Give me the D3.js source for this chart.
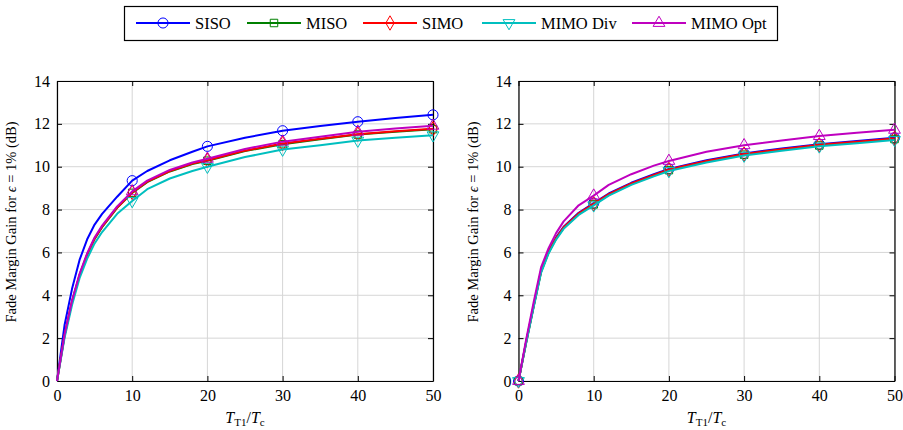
<!DOCTYPE html>
<html>
<head>
<meta charset="utf-8">
<script src="https://cdn.jsdelivr.net/npm/d3@7"></script>
<style>
  body { margin: 0; background: #fff; }
  svg text { font-family: "Liberation Serif", "DejaVu Serif", serif; fill: #000; }
</style>
</head>
<body>
<div id="chart"></div>
<script>
// sample points along T_T1/T_c
const tVals = [0, 1, 2, 3, 4, 5, 6, 8, 10, 12, 15, 18, 20, 25, 30, 35, 40, 45, 50];

// left panel
const sisoL = [0, 2.6, 4.3, 5.65, 6.6, 7.3, 7.8, 8.6, 9.35, 9.8, 10.3, 10.7, 10.95, 11.35, 11.68, 11.9, 12.1, 12.27, 12.42];
const misoL = [0, 2.1, 3.7, 4.93, 5.88, 6.63, 7.18, 8.08, 8.78, 9.28, 9.78, 10.13, 10.28, 10.73, 11.05, 11.28, 11.5, 11.63, 11.75];
const simoL = [0, 2.12, 3.72, 4.95, 5.9, 6.65, 7.2, 8.1, 8.8, 9.3, 9.8, 10.15, 10.3, 10.75, 11.08, 11.3, 11.52, 11.65, 11.77];
const divL  = [0, 2.0, 3.55, 4.8, 5.7, 6.42, 6.95, 7.8, 8.4, 8.95, 9.45, 9.8, 10.0, 10.45, 10.8, 11.0, 11.22, 11.35, 11.47];
const optL  = [0, 2.15, 3.75, 5.0, 5.95, 6.7, 7.25, 8.15, 8.85, 9.35, 9.85, 10.2, 10.37, 10.83, 11.17, 11.4, 11.63, 11.78, 11.91];

// right panel
const sisoR = [0, 1.8, 3.5, 5.15, 6.05, 6.7, 7.2, 7.85, 8.3, 8.75, 9.25, 9.65, 9.9, 10.3, 10.62, 10.85, 11.05, 11.2, 11.35];
const misoR = [0, 1.76, 3.45, 5.09, 5.99, 6.64, 7.14, 7.79, 8.24, 8.69, 9.19, 9.59, 9.84, 10.24, 10.56, 10.79, 10.99, 11.14, 11.29];
const simoR = [0, 1.78, 3.47, 5.12, 6.02, 6.67, 7.17, 7.82, 8.27, 8.72, 9.22, 9.62, 9.87, 10.27, 10.59, 10.82, 11.02, 11.17, 11.32];
const divR  = [0, 1.74, 3.42, 5.05, 5.95, 6.6, 7.1, 7.75, 8.2, 8.65, 9.15, 9.55, 9.8, 10.2, 10.52, 10.75, 10.95, 11.1, 11.25];
const optR  = [0, 1.9, 3.65, 5.3, 6.2, 6.9, 7.45, 8.2, 8.65, 9.15, 9.65, 10.05, 10.27, 10.7, 11.0, 11.22, 11.43, 11.58, 11.72];

const seriesNames = ["SISO", "MISO", "SIMO", "MIMO Div", "MIMO Opt"];
const colors = ["#0000ff", "#008000", "#ff0000", "#00bfbf", "#bf00bf"];
const xTicks = [0, 10, 20, 30, 40, 50];
const yTicks = [0, 2, 4, 6, 8, 10, 12, 14];
const markersLeft = [10, 20, 30, 40, 50];
const markersRight = [0, 10, 20, 30, 40, 50];

const W = 903, H = 430;
const svg = d3.select("#chart").append("svg")
  .attr("width", W).attr("height", H);

const y = d3.scaleLinear().domain([0, 14]).range([381, 81]);

const symbols = [
  d3.symbol().type(d3.symbolCircle).size(80),
  d3.symbol().type(d3.symbolSquare).size(56),
  d3.symbol().type(d3.symbolDiamond).size(60),
  d3.symbol().type(d3.symbolTriangle).size(60),
  d3.symbol().type(d3.symbolTriangle).size(60)
];
// marker path, down-triangle flipped
function marker(g, i, cx, cy) {
  g.append("path")
    .attr("d", symbols[i]())
    .attr("transform", `translate(${cx},${cy})` + (i === 3 ? " rotate(180)" : ""))
    .attr("fill", "none")
    .attr("stroke", colors[i])
    .attr("stroke-width", 1);
}

function panel(x0, x1, data, markerAt) {
  const x = d3.scaleLinear().domain([0, 50]).range([x0, x1]);
  const g = svg.append("g");

  // grid
  g.selectAll(".gx").data(xTicks).join("line")
    .attr("x1", d => x(d)).attr("x2", d => x(d))
    .attr("y1", y(0)).attr("y2", y(14))
    .attr("stroke", "#d6d6d6").attr("stroke-width", 1);
  g.selectAll(".gy").data(yTicks).join("line")
    .attr("y1", d => y(d)).attr("y2", d => y(d))
    .attr("x1", x(0)).attr("x2", x(50))
    .attr("stroke", "#d6d6d6").attr("stroke-width", 1);

  // axes with inward ticks
  const ax = g.append("g").attr("class", "axes");
  ax.append("g").attr("transform", `translate(0,${y(0)})`)
    .call(d3.axisBottom(x).tickValues(xTicks).tickSizeInner(-5).tickSizeOuter(0).tickPadding(9));
  ax.append("g").attr("transform", `translate(0,${y(14)})`)
    .call(d3.axisTop(x).tickValues(xTicks).tickSizeInner(-5).tickSizeOuter(0).tickFormat(""));
  ax.append("g").attr("transform", `translate(${x(0)},0)`)
    .call(d3.axisLeft(y).tickValues(yTicks).tickSizeInner(-5).tickSizeOuter(0).tickPadding(7));
  ax.append("g").attr("transform", `translate(${x(50)},0)`)
    .call(d3.axisRight(y).tickValues(yTicks).tickSizeInner(-5).tickSizeOuter(0).tickFormat(""));
  ax.selectAll(".domain").attr("stroke", "#000").attr("stroke-width", 1.2);
  ax.selectAll(".tick line").attr("stroke", "#000");
  ax.selectAll(".tick text")
    .style("font-family", "'Liberation Serif', serif")
    .style("font-size", "16px");

  // curves
  const line = d3.line().x((d, k) => x(tVals[k])).y(d => y(d));
  data.forEach((vals, i) => {
    g.append("path").datum(vals)
      .attr("d", line)
      .attr("fill", "none")
      .attr("stroke", colors[i])
      .attr("stroke-width", 2)
      .attr("stroke-linejoin", "round");
    markerAt.forEach(t => {
      const k = tVals.indexOf(t);
      marker(g, i, x(t), y(vals[k]));
    });
  });

  // y label
  const cx = x0 - 41, cy = 222;
  const yl = g.append("text")
    .attr("transform", `translate(${cx},${cy}) rotate(-90)`)
    .attr("text-anchor", "middle")
    .style("font-size", "14.5px");
  yl.append("tspan").text("Fade Margin Gain for ");
  yl.append("tspan").style("font-style", "italic").text("ϵ");
  yl.append("tspan").text(" = 1% (dB)");

  // x label
  const xl = g.append("text")
    .attr("x", (x0 + x1) / 2).attr("y", 423)
    .attr("text-anchor", "middle")
    .style("font-size", "16px");
  xl.append("tspan").style("font-style", "italic").text("T");
  xl.append("tspan").attr("dy", 3).style("font-size", "11px").text("T1");
  xl.append("tspan").attr("dy", -3).text("/");
  xl.append("tspan").style("font-style", "italic").text("T");
  xl.append("tspan").attr("dy", 3).style("font-size", "11px").text("c");
}

panel(57, 433, [sisoL, misoL, simoL, divL, optL], markersLeft);
panel(518.5, 894.5, [sisoR, misoR, simoR, divR, optR], markersRight);

// legend
const leg = svg.append("g");
leg.append("rect")
  .attr("x", 124.5).attr("y", 6.5).attr("width", 653).attr("height", 34)
  .attr("fill", "#fff").attr("stroke", "#000").attr("stroke-width", 1.2);
const legX = [136, 247, 363, 482, 632];
seriesNames.forEach((name, i) => {
  const lx = legX[i];
  leg.append("line")
    .attr("x1", lx).attr("x2", lx + 54).attr("y1", 23).attr("y2", 23)
    .attr("stroke", colors[i]).attr("stroke-width", 2);
  marker(leg, i, lx + 27, 23);
  leg.append("text")
    .attr("x", lx + 59).attr("y", 28.5)
    .style("font-size", "16.5px")
    .text(name);
});
</script>
</body>
</html>
